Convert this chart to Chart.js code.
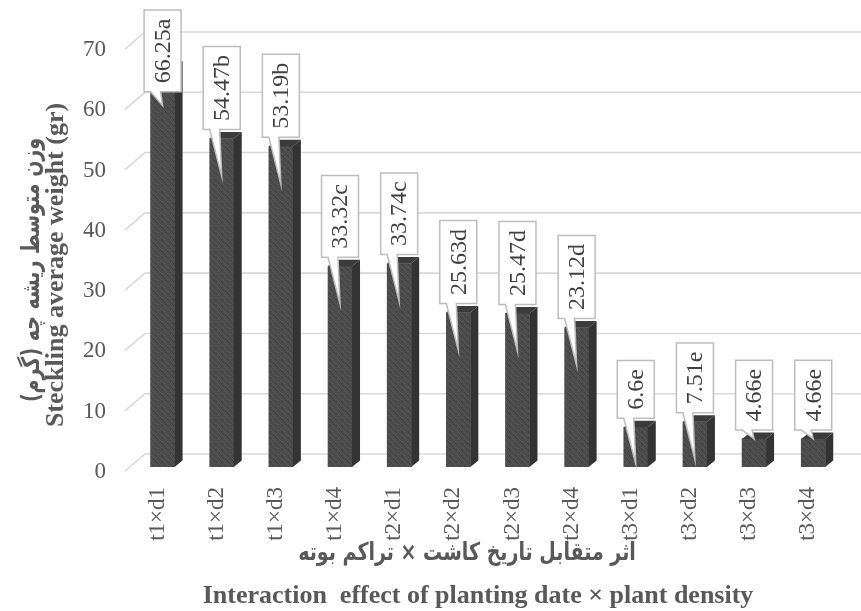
<!DOCTYPE html>
<html>
<head>
<meta charset="utf-8">
<script src="https://cdn.jsdelivr.net/npm/chart.js@4/dist/chart.umd.min.js"></script>
<style>
  html, body { margin: 0; padding: 0; background: #ffffff; }
  canvas { display: block; }
</style>
</head>
<body>
<canvas id="chart" width="861" height="611"></canvas>
<script>
// Treatment combinations (planting date × plant density)
const categories = ['t1×d1', 't1×d2', 't1×d3', 't1×d4', 't2×d1', 't2×d2', 't2×d3', 't2×d4', 't3×d1', 't3×d2', 't3×d3', 't3×d4'];
// Mean steckling weight (g)
const weights = [66.25, 54.47, 53.19, 33.32, 33.74, 25.63, 25.47, 23.12, 6.6, 7.51, 4.66, 4.66];
// Mean-comparison letters
const groups = ['a', 'b', 'b', 'c', 'c', 'd', 'd', 'd', 'e', 'e', 'e', 'e'];
// Value axis
const yMin = 0;
const yMax = 70;
const yStep = 10;

const yTitleFa = 'وزن متوسط ریشه چه (گرم)';
const yTitleEn = 'Steckling average weight (gr)';
const xTitleFa = 'اثر متقابل تاریخ کاشت × تراکم بوته';
const xTitleEn = 'Interaction  effect of planting date × plant density';

const SERIF = '"Liberation Serif", "Times New Roman", serif';
const FA_FONT = 'bold 19px "DejaVu Sans", sans-serif';
const TEXT = '#595959';
const GRID = '#d9d9d9';
const SIDE = '#333333';
const TOP = '#3b3b3b';
const DEPTH = { dx: 8, dy: -6.5 };   // bar depth offset
const WALL = { dx: 12, dy: -13 };    // back wall offset from plot left edge

// fine grain fill for the bar fronts
function grainPattern() {
  const c = document.createElement('canvas');
  c.width = 6; c.height = 6;
  const g = c.getContext('2d');
  for (let i = 0; i < 6; i++) {
    for (let j = 0; j < 6; j++) {
      const k = (i * 7 + j * 13 + i * j * 5) % 5;
      const v = 76 + (k - 2) * 5;
      g.fillStyle = `rgb(${v},${v},${v})`;
      g.fillRect(i, j, 1, 1);
    }
  }
  return c.getContext('2d').createPattern(c, 'repeat');
}

const wallAndFaces = {
  id: 'wallAndFaces',
  beforeDatasetsDraw(chart) {
    const { ctx, chartArea, scales: { y } } = chart;
    ctx.save();
    ctx.strokeStyle = GRID;
    ctx.lineWidth = 1.6;
    for (let v = yMin; v <= yMax; v += yStep) {
      const py = y.getPixelForValue(v);
      ctx.beginPath();
      ctx.moveTo(chartArea.left - 8, py + 4);
      ctx.lineTo(chartArea.left + WALL.dx, py + WALL.dy);
      ctx.lineTo(chart.width, py + WALL.dy);
      ctx.stroke();
    }
    ctx.restore();
  },
  afterDatasetsDraw(chart) {
    const { ctx } = chart;
    const meta = chart.getDatasetMeta(0);
    ctx.save();
    meta.data.forEach((bar) => {
      const half = bar.width / 2;
      const l = bar.x - half, r = bar.x + half;
      const t = bar.y, b = bar.base;
      // right side face
      ctx.fillStyle = SIDE;
      ctx.beginPath();
      ctx.moveTo(r, t);
      ctx.lineTo(r + DEPTH.dx, t + DEPTH.dy);
      ctx.lineTo(r + DEPTH.dx, b + DEPTH.dy);
      ctx.lineTo(r, b);
      ctx.closePath();
      ctx.fill();
      // top face
      ctx.fillStyle = TOP;
      ctx.beginPath();
      ctx.moveTo(l, t);
      ctx.lineTo(l + DEPTH.dx, t + DEPTH.dy);
      ctx.lineTo(r + DEPTH.dx, t + DEPTH.dy);
      ctx.lineTo(r, t);
      ctx.closePath();
      ctx.fill();
    });

    // callout labels
    const font = '24px ' + SERIF;
    meta.data.forEach((bar, i) => {
      const text = String(weights[i]) + groups[i];
      ctx.font = font;
      const tw = ctx.measureText(text).width;
      const w = 37, h = tw + 17;
      const cx = bar.x;
      const top = bar.y, base = bar.base;
      let bottom = top - 9;
      let boxTop = bottom - h;
      if (boxTop < 10) { boxTop = 10; bottom = boxTop + h; }
      const tipY = (base - top) >= 38 ? Math.min(top + 38, base - 3) : top;
      const bl = cx - w / 2, br = cx + w / 2;
      ctx.beginPath();
      ctx.moveTo(bl, boxTop);
      ctx.lineTo(br, boxTop);
      ctx.lineTo(br, bottom);
      ctx.lineTo(cx - 2, bottom);
      ctx.lineTo(cx, tipY);
      ctx.lineTo(cx - 12, bottom);
      ctx.lineTo(bl, bottom);
      ctx.closePath();
      ctx.fillStyle = '#ffffff';
      ctx.fill();
      ctx.strokeStyle = '#bdbdbd';
      ctx.lineWidth = 1.5;
      ctx.stroke();

      ctx.save();
      ctx.translate(cx + 1, boxTop + h / 2);
      ctx.rotate(-Math.PI / 2);
      ctx.fillStyle = '#404040';
      ctx.textAlign = 'center';
      ctx.textBaseline = 'middle';
      ctx.fillText(text, 0, 0);
      ctx.restore();
    });
    ctx.restore();
  },
  afterDraw(chart) {
    const { ctx } = chart;
    ctx.save();
    ctx.fillStyle = TEXT;
    ctx.textAlign = 'center';
    ctx.textBaseline = 'middle';

    // value-axis titles
    ctx.save();
    ctx.translate(33, 270);
    ctx.rotate(-Math.PI / 2);
    ctx.scale(1, 1.3);
    ctx.direction = 'rtl';
    ctx.font = FA_FONT;
    ctx.fillText(yTitleFa, 0, 0);
    ctx.restore();

    ctx.save();
    ctx.translate(56, 265);
    ctx.rotate(-Math.PI / 2);
    ctx.font = 'bold 26px ' + SERIF;
    ctx.fillText(yTitleEn, 0, 0);
    ctx.restore();

    // category-axis titles
    ctx.save();
    ctx.translate(467, 554);
    ctx.scale(1, 1.3);
    ctx.direction = 'rtl';
    ctx.font = FA_FONT;
    ctx.fillText(xTitleFa, 0, 0);
    ctx.restore();

    ctx.font = 'bold 26px ' + SERIF;
    ctx.fillText(xTitleEn, 478, 596);
    ctx.restore();
  }
};

const canvas = document.getElementById('chart');
new Chart(canvas, {
  type: 'bar',
  data: {
    labels: categories,
    datasets: [{
      data: weights,
      backgroundColor: grainPattern(),
      borderWidth: 0,
      barThickness: 24
    }]
  },
  options: {
    responsive: false,
    animation: false,
    devicePixelRatio: 1,
    layout: { padding: { top: 45, right: 4, left: 0, bottom: 0 } },
    plugins: {
      legend: { display: false },
      tooltip: { enabled: false }
    },
    scales: {
      x: {
        grid: { display: false, drawTicks: false },
        border: { display: false },
        ticks: {
          color: TEXT,
          font: { family: SERIF, size: 23 },
          minRotation: 90,
          maxRotation: 90,
          autoSkip: false,
          padding: 20,
          labelOffset: -5
        },
        afterFit(scale) { scale.height = 144; }
      },
      y: {
        min: yMin,
        max: yMax,
        grid: { display: false, drawTicks: false },
        border: { display: false },
        ticks: {
          stepSize: yStep,
          color: TEXT,
          font: { family: SERIF, size: 23 },
          padding: 27,
          labelOffset: 5
        },
        afterFit(scale) { scale.width = 133; }
      }
    }
  },
  plugins: [wallAndFaces]
});
</script>
</body>
</html>
